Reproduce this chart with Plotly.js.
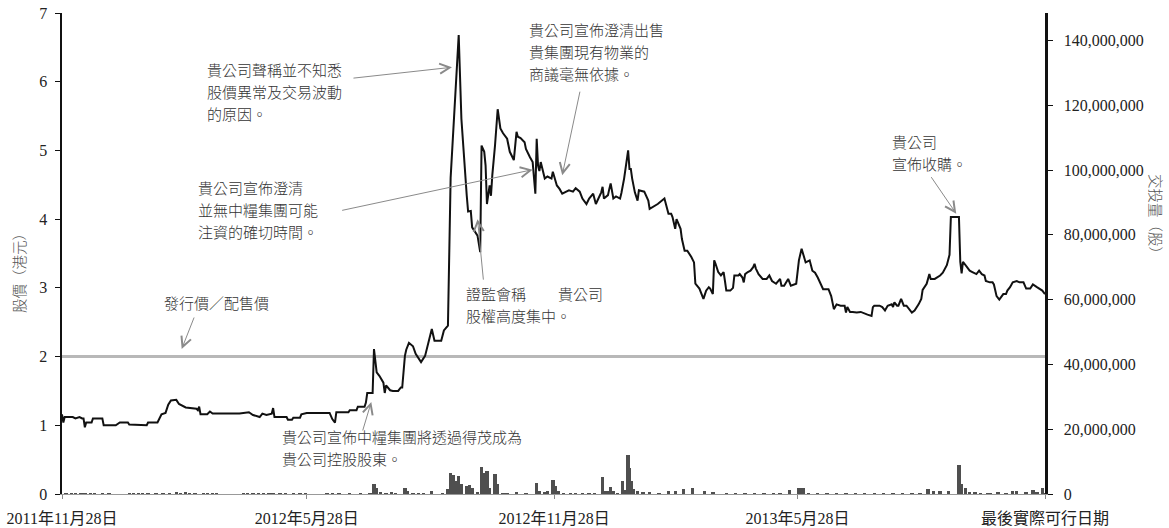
<!DOCTYPE html>
<html><head><meta charset="utf-8">
<script src="https://cdn.plot.ly/plotly-3.0.1.min.js"></script>
<style>html,body{margin:0;padding:0;background:#fff;}#chart{width:1169px;height:528px;}</style>
</head><body><div id="chart"></div>
<script>
// ---- DATA ----
const priceDates = [
'2011-11-28','2011-11-29','2011-11-30','2011-12-06','2011-12-08','2011-12-11','2011-12-13','2011-12-14','2011-12-15','2011-12-16',
'2011-12-20','2011-12-21','2011-12-28','2011-12-29','2012-01-07','2012-01-10','2012-01-16','2012-01-17','2012-01-30','2012-01-31',
'2012-02-07','2012-02-10','2012-02-13','2012-02-15','2012-02-17','2012-02-21','2012-02-23','2012-02-28','2012-03-07','2012-03-08',
'2012-03-09','2012-03-10','2012-03-15','2012-03-17','2012-03-19','2012-04-08','2012-04-15','2012-04-18','2012-04-23','2012-04-25',
'2012-04-28','2012-05-02','2012-05-03','2012-05-04','2012-05-13','2012-05-14','2012-05-17','2012-05-18','2012-05-23','2012-05-24',
'2012-05-28','2012-06-14','2012-06-16','2012-06-18','2012-06-19','2012-06-28','2012-06-29','2012-07-04','2012-07-05','2012-07-10',
'2012-07-11','2012-07-12','2012-07-16','2012-07-17','2012-07-19','2012-07-21','2012-07-24','2012-07-25','2012-07-26','2012-07-29',
'2012-07-31','2012-08-04','2012-08-06','2012-08-07','2012-08-09','2012-08-10','2012-08-12','2012-08-15','2012-08-17','2012-08-21',
'2012-08-24','2012-08-26','2012-08-29','2012-08-31','2012-09-05','2012-09-07','2012-09-10','2012-09-12','2012-09-18','2012-09-20',
'2012-09-22','2012-09-24','2012-09-25','2012-09-27','2012-09-28','2012-10-01','2012-10-02','2012-10-04','2012-10-05','2012-10-07',
'2012-10-08','2012-10-09','2012-10-11','2012-10-12','2012-10-13','2012-10-15','2012-10-17','2012-10-19','2012-10-21','2012-10-24',
'2012-10-26','2012-10-29','2012-10-31','2012-11-01','2012-11-03','2012-11-06','2012-11-07','2012-11-10','2012-11-12','2012-11-14',
'2012-11-15','2012-11-16','2012-11-17','2012-11-18','2012-11-19','2012-11-21','2012-11-23','2012-11-26','2012-11-27','2012-11-30',
'2012-12-02','2012-12-04','2012-12-07','2012-12-09','2012-12-12','2012-12-14','2012-12-17','2012-12-19','2012-12-22','2012-12-24',
'2012-12-27','2012-12-29','2013-01-02','2013-01-03','2013-01-04','2013-01-07','2013-01-08','2013-01-09','2013-01-11','2013-01-13',
'2013-01-16','2013-01-17','2013-01-19','2013-01-22','2013-01-23','2013-01-24','2013-01-25','2013-01-27','2013-01-29','2013-01-30',
'2013-02-03','2013-02-06','2013-02-07','2013-02-13','2013-02-18','2013-02-21','2013-02-23','2013-02-24','2013-02-26','2013-02-27',
'2013-03-02','2013-03-03','2013-03-05','2013-03-07','2013-03-10','2013-03-12','2013-03-13','2013-03-15','2013-03-16','2013-03-19',
'2013-03-21','2013-03-23','2013-03-24','2013-03-26','2013-03-27','2013-03-28','2013-03-30','2013-04-01','2013-04-03','2013-04-04',
'2013-04-05','2013-04-08','2013-04-10','2013-04-11','2013-04-14','2013-04-15','2013-04-17','2013-04-18','2013-04-19','2013-04-21',
'2013-04-23','2013-04-25','2013-04-26','2013-04-27','2013-04-29','2013-05-02','2013-05-05','2013-05-07','2013-05-09','2013-05-12',
'2013-05-15','2013-05-16','2013-05-18','2013-05-21','2013-05-23','2013-05-27','2013-05-29','2013-05-31','2013-06-01','2013-06-03',
'2013-06-06','2013-06-08','2013-06-10','2013-06-12','2013-06-16','2013-06-18','2013-06-20','2013-06-22','2013-06-24','2013-06-26',
'2013-06-29','2013-07-02','2013-07-03','2013-07-04','2013-07-06','2013-07-08','2013-07-11','2013-07-14','2013-07-17','2013-07-19',
'2013-07-22','2013-07-23','2013-07-24','2013-07-28','2013-07-30','2013-08-01','2013-08-03','2013-08-06','2013-08-07','2013-08-08',
'2013-08-10','2013-08-11','2013-08-13','2013-08-15','2013-08-17','2013-08-19','2013-08-21','2013-08-23','2013-08-26','2013-08-28',
'2013-08-29','2013-09-01','2013-09-03','2013-09-04','2013-09-07','2013-09-11','2013-09-13','2013-09-16','2013-09-18','2013-09-19',
'2013-09-25','2013-09-26','2013-09-27','2013-09-28','2013-09-30','2013-10-01','2013-10-03','2013-10-05','2013-10-08','2013-10-10',
'2013-10-12','2013-10-14','2013-10-15','2013-10-18','2013-10-20','2013-10-21','2013-10-23','2013-10-25','2013-10-26','2013-10-28',
'2013-10-30','2013-10-31','2013-11-02','2013-11-04','2013-11-07','2013-11-09','2013-11-12','2013-11-14','2013-11-17','2013-11-19',
'2013-11-22','2013-11-24','2013-11-26','2013-11-28'
];
const priceValues = [
1.16,1.04,1.12,1.12,1.10,1.12,1.10,1.10,0.97,1.04,
1.04,1.10,1.10,1.00,1.00,1.04,1.04,1.01,1.00,1.04,
1.04,1.16,1.18,1.30,1.36,1.37,1.31,1.26,1.24,1.22,
1.27,1.16,1.16,1.20,1.17,1.17,1.19,1.15,1.12,1.17,
1.15,1.17,1.25,1.12,1.12,1.08,1.08,1.11,1.11,1.16,
1.18,1.18,1.09,1.04,1.19,1.19,1.22,1.22,1.27,1.27,
1.33,1.47,1.47,2.11,1.77,1.72,1.62,1.47,1.58,1.51,
1.50,1.50,1.55,1.55,2.01,2.10,2.20,2.15,2.04,1.92,
2.01,2.15,2.40,2.23,2.23,2.38,2.45,4.60,6.68,5.46,
4.83,4.34,4.11,4.12,3.88,3.80,3.76,3.52,5.07,4.98,
4.78,4.22,4.49,4.34,4.64,5.07,5.60,5.32,5.25,5.17,
4.98,4.86,5.27,5.20,5.18,5.12,5.02,4.90,4.83,4.37,
5.17,4.78,4.70,4.83,4.75,4.59,4.62,4.59,4.69,4.49,
4.44,4.37,4.40,4.42,4.40,4.45,4.40,4.30,4.22,4.30,
4.37,4.22,4.39,4.47,4.30,4.35,4.44,4.52,4.30,4.33,
4.30,4.38,4.59,5.00,4.73,4.73,4.59,4.39,4.27,4.42,
4.40,4.27,4.15,4.22,4.30,4.08,4.08,4.03,3.86,4.00,
3.86,3.71,3.54,3.54,3.45,3.37,3.06,3.01,2.99,2.84,
2.96,3.01,2.99,2.91,3.40,3.35,3.23,3.18,3.23,3.10,
2.96,2.96,3.00,3.18,3.18,3.20,3.15,3.08,3.20,3.23,
3.25,3.30,3.35,3.28,3.20,3.13,3.13,3.18,3.10,3.06,
3.13,3.03,3.03,3.13,3.03,3.06,3.40,3.57,3.50,3.37,
3.40,3.25,3.22,3.15,2.98,2.98,2.98,2.88,2.69,2.76,
2.74,2.74,2.64,2.72,2.65,2.65,2.64,2.65,2.62,2.61,
2.59,2.72,2.74,2.74,2.72,2.67,2.74,2.76,2.72,2.79,
2.74,2.74,2.84,2.74,2.74,2.69,2.64,2.67,2.76,2.84,
2.97,3.06,3.20,3.13,3.13,3.18,3.22,3.33,3.48,4.03,
4.03,3.38,3.21,3.38,3.33,3.31,3.25,3.23,3.20,3.25,
3.20,3.18,3.10,3.08,3.08,3.05,2.88,2.83,2.86,2.91,
2.91,2.96,3.01,3.08,3.10,3.08,3.08,2.99,2.99,3.05,
3.01,2.99,2.96,2.91
];
const volDates = [
'2011-12-01','2011-12-05','2011-12-08','2011-12-12','2011-12-15','2011-12-19','2011-12-22','2011-12-28','2012-01-02','2012-01-17',
'2012-01-20','2012-01-24','2012-01-27','2012-01-31','2012-02-06','2012-02-11','2012-02-16','2012-02-21','2012-02-24','2012-02-28',
'2012-03-02','2012-03-06','2012-03-12','2012-03-15','2012-03-19','2012-03-22','2012-04-11','2012-04-14','2012-04-18','2012-04-22',
'2012-04-26','2012-04-30','2012-05-03','2012-05-08','2012-05-12','2012-05-18','2012-05-23','2012-05-27','2012-06-12','2012-06-16',
'2012-06-21','2012-06-29','2012-07-07','2012-07-14','2012-07-17','2012-07-19','2012-07-22','2012-07-26','2012-07-30','2012-08-02',
'2012-08-09','2012-08-11','2012-08-15','2012-08-19','2012-08-23','2012-08-29','2012-09-06','2012-09-10','2012-09-12','2012-09-14',
'2012-09-16','2012-09-18','2012-09-20','2012-09-24','2012-09-26','2012-09-28','2012-10-02','2012-10-05','2012-10-07','2012-10-09',
'2012-10-11','2012-10-15','2012-10-17','2012-10-21','2012-10-24','2012-10-31','2012-11-07','2012-11-15','2012-11-17','2012-11-21',
'2012-11-23','2012-11-27','2012-11-29','2012-12-01','2012-12-05','2012-12-10','2012-12-14','2012-12-19','2012-12-24','2012-12-28',
'2013-01-03','2013-01-05','2013-01-07','2013-01-09','2013-01-11','2013-01-14','2013-01-18','2013-01-20','2013-01-22','2013-01-23',
'2013-01-24','2013-01-26','2013-01-29','2013-02-02','2013-02-07','2013-02-14','2013-02-21','2013-02-26','2013-03-04','2013-03-11',
'2013-03-20','2013-03-26','2013-04-05','2013-04-12','2013-04-19','2013-04-26','2013-05-03','2013-05-10','2013-05-15','2013-05-22',
'2013-05-29','2013-06-01','2013-06-05','2013-06-12','2013-06-19','2013-06-26','2013-07-03','2013-07-10','2013-07-17','2013-07-24',
'2013-07-31','2013-08-07','2013-08-14','2013-08-21','2013-08-27','2013-09-02','2013-09-06','2013-09-11','2013-09-17','2013-09-25',
'2013-09-27','2013-09-30','2013-10-03','2013-10-07','2013-10-11','2013-10-16','2013-10-18','2013-10-24','2013-10-30','2013-11-04',
'2013-11-07','2013-11-14','2013-11-19','2013-11-22','2013-11-26','2013-11-28'
];
const volValues = [
400000,300000,400000,300000,400000,300000,200000,200000,200000,400000,
400000,300000,300000,200000,300000,400000,400000,600000,400000,500000,
400000,400000,400000,300000,300000,200000,300000,400000,300000,300000,
400000,300000,300000,300000,200000,200000,300000,200000,300000,300000,
200000,200000,200000,400000,3200000,2000000,500000,400000,500000,400000,
1800000,900000,400000,400000,300000,1000000,400000,1500000,6500000,6000000,
4000000,5600000,3000000,2500000,2700000,2000000,600000,8300000,6500000,7000000,
2000000,6200000,3000000,400000,300000,700000,300000,3400000,800000,600000,
800000,4200000,2500000,1000000,300000,300000,300000,300000,300000,200000,
5200000,1000000,800000,2200000,800000,400000,4100000,1200000,12000000,8000000,
4000000,1500000,1000000,600000,500000,300000,900000,1000000,1400000,1900000,
800000,600000,300000,300000,300000,300000,300000,300000,300000,1100000,
1700000,1700000,400000,300000,300000,300000,300000,300000,300000,300000,
300000,300000,300000,300000,400000,1400000,900000,800000,1000000,8900000,
3100000,1700000,500000,500000,400000,400000,400000,500000,300000,900000,
900000,700000,1200000,600000,1900000,300000
];
const offerPrice = 2.0;
const xRange = ['2011-11-28', '2013-11-28'];
const xTickDates = ['2011-11-28','2012-05-28','2012-11-28','2013-05-28','2013-11-28'];
const xTickLabels = ['2011年11月28日','2012年5月28日','2012年11月28日','2013年5月28日','最後實際可行日期'];
const yTicks = [0,1,2,3,4,5,6,7];
const y2Ticks = [0,20000000,40000000,60000000,80000000,100000000,120000000,140000000];

// ---- ANNOTATIONS: [text, left px, centre px] ----
const noteLines = [
  ['貴公司聲稱並不知悉',205,69],['股價異常及交易波動',205,91],['的原因。',205,113],
  ['貴公司宣佈澄清出售',527,30],['貴集團現有物業的',527,52],['商議毫無依據。',527,74],
  ['貴公司宣佈澄清',196,187.5],['並無中糧集團可能',196,209.5],['注資的確切時間。',196,231.5],
  ['證監會稱',464,293.5],['貴公司',556,293.5],['股權高度集中。',464,315.5],
  ['發行價／配售價',162,302],
  ['貴公司宣佈中糧集團將透過得茂成為',280,436],['貴公司控股股東。',280,458],
  ['貴公司',890,141],['宣佈收購。',890,163]
];
// arrow tips in data space [date, price], tail offset in pixels
const arrows = [
  ['2012-09-13',6.21,-100,11],
  ['2012-12-04',4.64,18,-85],
  ['2012-11-12',4.72,-192,41],
  ['2012-10-02',4.00,6,62],
  ['2012-02-25',2.11,13,-33],
  ['2012-07-15',1.34,-9,30],
  ['2013-09-23',4.08,-26,-38]
];

const PL=62, PT=13, PW=983, PH=481;
const px = x => (x-PL)/PW, py = y => (PT+PH-y)/PH;
const serif = "'Liberation Serif','Noto Sans CJK TC',serif";
const cjk = "'Noto Sans CJK TC','Noto Sans CJK SC',sans-serif";

const annotations = [];
noteLines.forEach(([t,x,y]) => annotations.push({
  text:t, xref:'paper', yref:'paper', x:px(x), y:py(y), xanchor:'left', yanchor:'middle',
  showarrow:false, font:{family:cjk, size:15, color:'#333', weight:300}
}));
arrows.forEach(([d,p,ax,ay]) => annotations.push({
  text:'', xref:'x', yref:'y', x:d, y:p, ax:ax, ay:ay, showarrow:true,
  arrowhead:5, arrowsize:2, arrowwidth:1, arrowcolor:'#8a8a8a', standoff:0, startstandoff:0
}));
annotations.push({text:'股價（港元）', xref:'paper', yref:'paper', x:px(18), y:py(270), textangle:-90,
  showarrow:false, xanchor:'center', yanchor:'middle', font:{family:cjk, size:14.5, color:'#555', weight:300}});
annotations.push({text:'交投量（股）', xref:'paper', yref:'paper', x:px(1157), y:py(217), textangle:90,
  showarrow:false, xanchor:'center', yanchor:'middle', font:{family:cjk, size:14.5, color:'#555', weight:300}});

const traces = [
  {type:'bar', x:volDates, y:volValues, yaxis:'y2', width:2.5*86400000,
   marker:{color:'#4f4f4f', line:{width:0}}, hoverinfo:'skip'},
  {type:'scatter', mode:'lines', x:xRange, y:[offerPrice, offerPrice],
   line:{color:'#b8b8b8', width:3}, hoverinfo:'skip'},
  {type:'scatter', mode:'lines', x:priceDates, y:priceValues,
   line:{color:'#111', width:2}, hoverinfo:'skip'}
];

const tickFont = {family:serif, size:16, color:'#222'};
const layout = {
  width:1169, height:528, margin:{l:PL, r:1169-PL-PW, t:PT, b:528-PT-PH},
  paper_bgcolor:'#fff', plot_bgcolor:'#fff', showlegend:false, bargap:0,
  xaxis:{type:'date', range:xRange, tickvals:xTickDates, ticktext:xTickLabels, tickangle:0,
    ticks:'outside', ticklen:4, tickcolor:'#888', showline:true, linecolor:'#999', linewidth:1,
    showgrid:false, zeroline:false, tickfont:tickFont, ticklabelstandoff:6},
  yaxis:{range:[0,7], tickvals:yTicks, ticks:'outside', ticklen:5, tickcolor:'#111',
    showline:true, linecolor:'#111', linewidth:2.5, showgrid:false, zeroline:false,
    tickfont:tickFont, ticklabelstandoff:4},
  yaxis2:{overlaying:'y', side:'right', range:[0,148500000], tickvals:y2Ticks, tickformat:',d',
    ticks:'outside', ticklen:5, tickcolor:'#111', showline:true, linecolor:'#111', linewidth:2.5,
    showgrid:false, zeroline:false, tickfont:tickFont, ticklabelstandoff:8},
  annotations:annotations
};
Plotly.newPlot('chart', traces, layout, {staticPlot:true, displayModeBar:false});
</script></body></html>
